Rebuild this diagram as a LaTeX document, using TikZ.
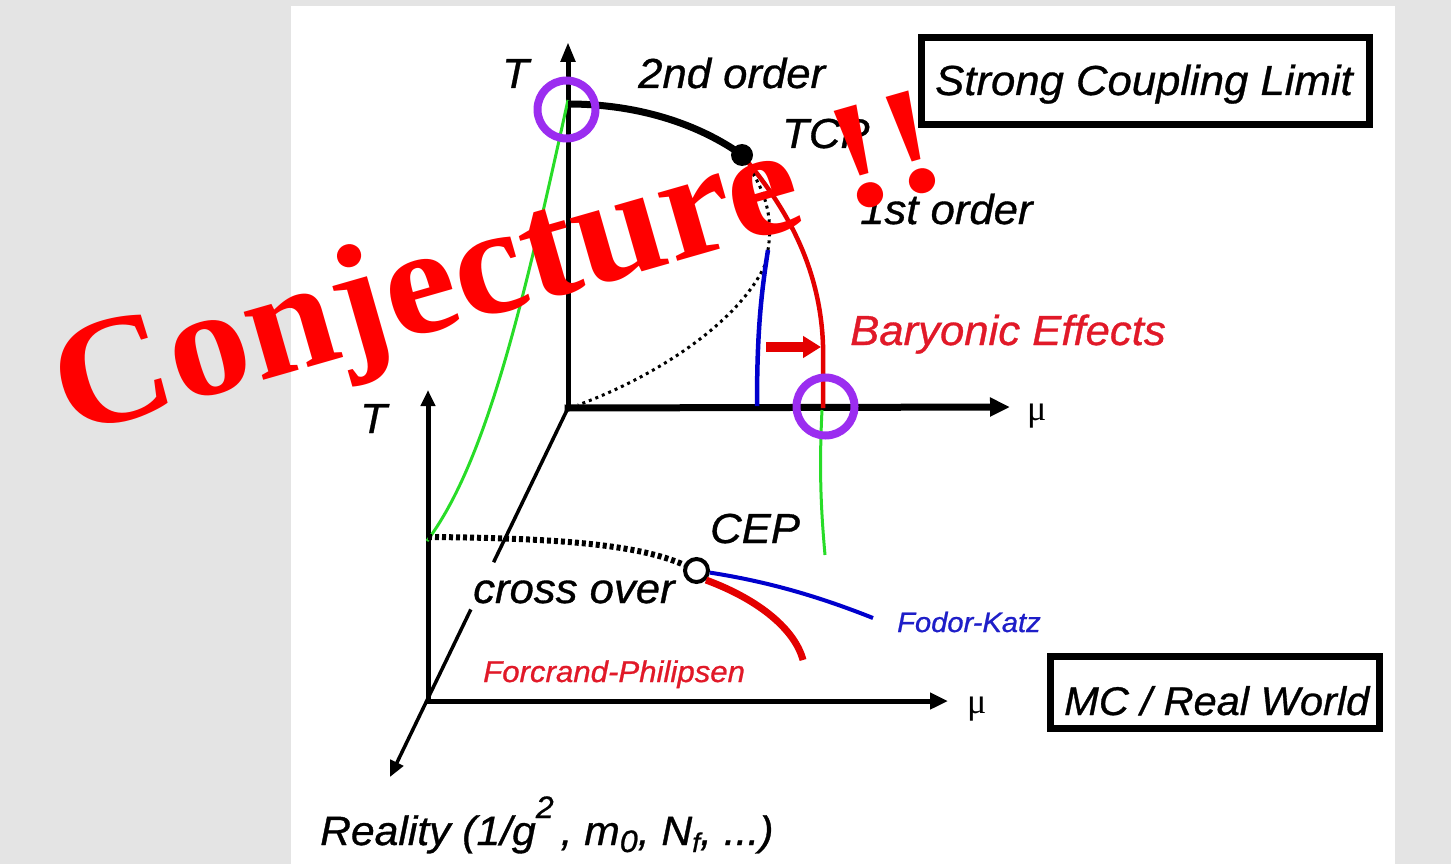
\documentclass[tikz,border=0pt]{standalone}
\usepackage{fontspec}
\setmainfont{Liberation Sans}
\newfontfamily\labfont{Liberation Sans Italic}[FakeStretch=1.04,FakeBold=0.8]
\newfontfamily\timesfont{Liberation Serif}
\newfontfamily\conjfont{Liberation Serif Bold}[FakeStretch=1.05]
\usetikzlibrary{arrows.meta,calc}
\definecolor{bggray}{RGB}{228,228,228}
\definecolor{ringpurple}{RGB}{155,45,240}
\definecolor{linegreen}{RGB}{40,220,40}
\definecolor{lineblue}{RGB}{0,0,205}
\definecolor{linered}{RGB}{228,0,0}
\definecolor{labred}{RGB}{225,25,40}
\definecolor{labblue}{RGB}{30,30,200}
\definecolor{conjred}{RGB}{255,0,0}
\begin{document}
\begin{tikzpicture}[x=1pt,y=-1pt,
  lab/.style={inner sep=0pt, anchor=base west, font=\fontsize{42}{46}\selectfont\labfont},
  smalllab/.style={inner sep=0pt, anchor=base west, font=\fontsize{30}{34}\selectfont\labfont},
  mulab/.style={inner sep=0pt, anchor=base west, font=\fontsize{36}{40}\selectfont\timesfont},
  axisline/.style={line width=5pt, line cap=rect},
  ring/.style={draw=ringpurple, line width=8pt, circle, minimum size=58pt, inner sep=0pt},
  dotline/.style={line width=3pt, dash pattern=on 3pt off 4pt},
  framebox/.style={draw, line width=7pt, inner sep=0pt}
]
\fill[bggray] (0,0) rectangle (1451,864);
\fill[white] (291,6) rectangle (1395,864);
\useasboundingbox (0,0) rectangle (1451,864);

% axis coordinates
\coordinate (O1) at (568,408);
\coordinate (Ttip1) at (568,42);
\coordinate (Mtip1) at (1010,407);
\coordinate (O2) at (428,701);
\coordinate (Ttip2) at (428,390);
\coordinate (Mtip2) at (948,701);
\coordinate (Dtip) at (390,777);

% curve coordinates
\coordinate (Ttop) at (568,104);
\coordinate (TCPc) at (742,155);
\coordinate (Mend) at (823,408);
\coordinate (Btop) at (768,250);
\coordinate (Bbot) at (757,406);
\coordinate (Gtop) at (568,100);
\coordinate (Gbot) at (427,541);
\coordinate (CO) at (428,537);
\coordinate (Glo1) at (822,410);
\coordinate (Glo2) at (825,555);
\coordinate (FKend) at (873,618);
\coordinate (FPend) at (803,660);
\coordinate (BAs) at (766,347);
\coordinate (BAe) at (821,347);

% upper axes
\draw[axisline, -{Triangle[length=20pt,width=14pt]}] (O1) -- (Ttip1);
\draw[axisline, line width=7pt, -{Triangle[length=20pt,width=18pt]}] (O1) -- (Mtip1);
% depth axis
\draw[line width=3.5pt] (O1) -- ($(O1)!0.418!(Dtip)$);
\draw[line width=3.5pt, -{Triangle[length=16pt,width=14pt]}] ($(O1)!0.546!(Dtip)$) -- (Dtip);
% lower axes
\draw[axisline, -{Triangle[length=16pt,width=14pt]}] (O2) -- (Ttip2);
\draw[axisline, -{Triangle[length=18pt,width=16pt]}] (O2) -- (Mtip2);

% green lines
\draw[linegreen, line width=3pt] (Gtop) .. controls (524,300) and (487,461) .. (Gbot);
\draw[linegreen, line width=3pt] (Glo1) .. controls (819,470) and (821,510) .. (Glo2);

% upper phase diagram
\draw[line width=7pt] (Ttop) .. controls (640,104) and (700,125) .. (TCPc);
\draw[linered, line width=4.5pt] (TCPc) .. controls (780,200) and (820,260) .. (823,345) -- (Mend);
\draw[dotline] (745,162) .. controls (770,195) and (772,225) .. (Btop);
\draw[dotline] (765,265) .. controls (740,320) and (660,375) .. (578,405);
\draw[lineblue, line width=4.5pt] (Btop) .. controls (760,300) and (757,340) .. (Bbot);
\draw[linered, line width=10pt, -{Triangle[length=18pt,width=21pt]}] (BAs) -- (BAe);
\fill (TCPc) circle (11pt);
\node[ring] (ringT) at (566.5,109.5) {};
\node[ring] (ringM) at (825.5,406.5) {};

% lower phase diagram
\node[draw, circle, line width=4pt, fill=white, minimum size=23pt, inner sep=0pt] (cep) at (696.5,570.5) {};
\draw[line width=6pt, dash pattern=on 4pt off 3pt] (CO) .. controls (560,538) and (640,545) .. (cep);
\draw[lineblue, line width=4pt] (cep) .. controls (770,582) and (820,597) .. (FKend);
\draw[linered, line width=7pt] (cep.south east) .. controls (760,600) and (795,630) .. (FPend);

% labels
\node[lab] (tlabU) at (502,88) {T};
\node[lab] (second) at (638,88) {2nd order};
\node[lab] (tcp) at (782,148) {TCP};
\node[lab] (first) at (860,224) {1st order};
\node[lab, text=labred] (bary) at (850,345) {Baryonic Effects};
\node[mulab] (mu1) at (1027,420) {μ};
\node[lab] (tlabL) at (360,433) {T};
\node[lab] (ceplab) at (710,543) {CEP};
\node[lab] (cross) at (473,603) {cross over};
\node[smalllab, text=labred] (fp) at (483,682) {Forcrand-Philipsen};
\node[smalllab, font=\fontsize{28}{32}\selectfont\labfont, text=labblue] (fk) at (897,632) {Fodor-Katz};
\node[mulab] (mu2) at (967,713) {μ};
\node[lab, font=\fontsize{41}{45}\selectfont\labfont] (reality) at (320,845) {Reality (1/g\raisebox{27pt}{\fontsize{31}{31}\selectfont 2}\,, m\raisebox{-7pt}{\fontsize{31}{31}\selectfont 0}, N\raisebox{-7pt}{\fontsize{27}{27}\selectfont f}, ...)};

% boxes
\node[framebox, minimum width=448pt, minimum height=87pt] (sclbox) at (1145.5,81) {};
\node[lab] (scltext) at (935,95) {Strong Coupling Limit};
\node[framebox, minimum width=329pt, minimum height=72pt] (mcbox) at (1215,692.5) {};
\node[lab, font=\fontsize{40}{44}\selectfont\labfont] (mctext) at (1064,715) {MC / Real World};

% overlay
\node[inner sep=0pt, rotate=16, text=conjred, font=\fontsize{154}{154}\selectfont\conjfont] (conj) at (500,274) {Conjecture !!};
\end{tikzpicture}
\end{document}
